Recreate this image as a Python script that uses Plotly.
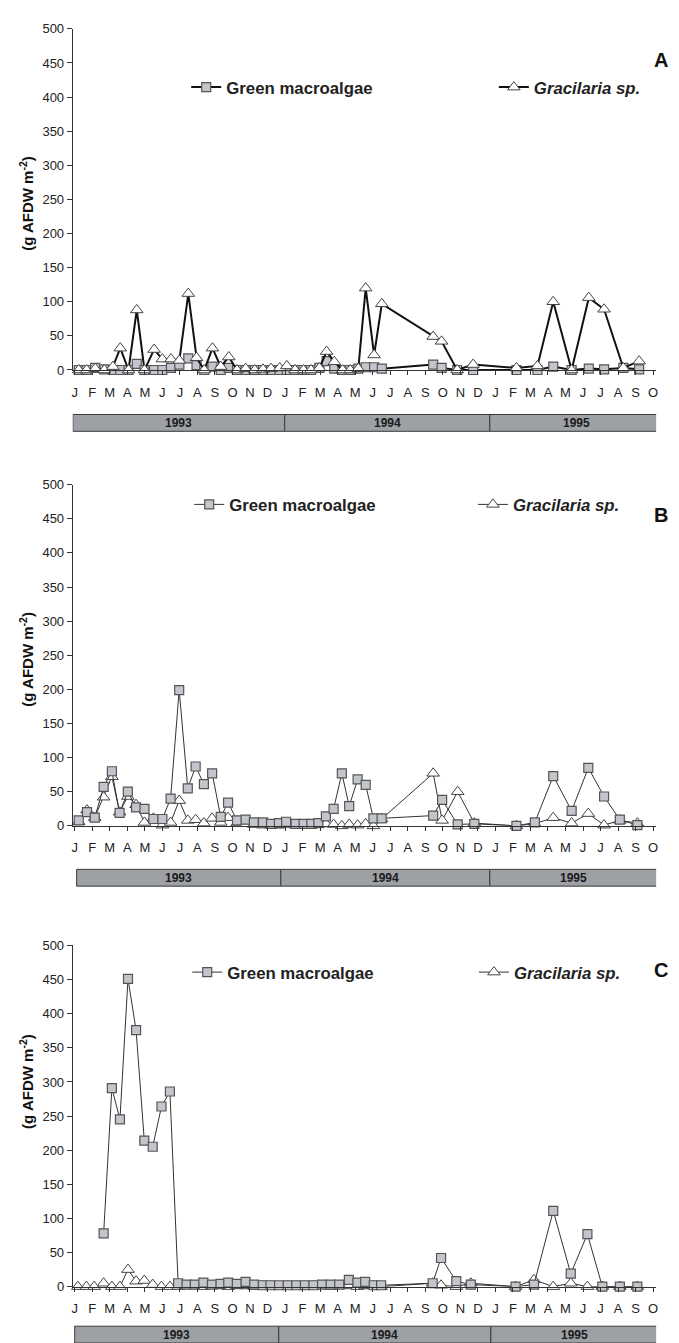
import plotly.graph_objects as go

W, H = 679, 1343

MONTHS = ["J", "F", "M", "A", "M", "J", "J", "A", "S", "O", "N", "D"]
month_ticks = list(range(34))
month_labels = [MONTHS[i % 12] for i in month_ticks]
y_ticks = [0, 50, 100, 150, 200, 250, 300, 350, 400, 450, 500]
years = ["1993", "1994", "1995"]
panel_letters = ["A", "B", "C"]
series_names = ["Green macroalgae", "<i>Gracilaria sp.</i>"]

# ---- Panel A (months since Jan 1993) ----
a_x = [0.23, 0.68, 1.17, 1.69, 2.18, 2.6, 3.07, 3.54, 3.98, 4.53, 5.0, 5.49, 5.97,
       6.48, 6.95, 7.39, 7.86, 8.33, 8.79, 9.26, 9.75, 10.27, 10.74, 11.2, 11.69,
       12.1, 12.57, 13.05, 13.48, 13.96, 14.37, 14.81, 15.28, 15.72, 16.18, 16.6,
       17.08, 17.52, 20.45, 20.93, 21.82, 22.73, 25.2, 26.4, 27.3, 28.35, 29.33,
       30.2, 31.3, 32.2]
a_green = [0, 0, 3, 1, 0, 0, 0, 9, 0, 0, 0, 3, 8, 17, 7, 0, 5, 0, 3, 0, 0, 0, 0, 0, 0,
           0, 0, 0, 0, 3, 13, 2, 0, 0, 2, 4, 4, 2, 8, 3, 0, 0, 0, 0, 5, 0, 2, 1, 3, 1]
a_grac = [0, 0, 2, 0, 5, 32, 0, 88, 0, 30, 16, 16, 14, 112, 18, 0, 32, 5, 19, 0, 2, 0,
          1, 2, 3, 6, 0, 0, 0, 3, 27, 12, 0, 0, 2, 120, 22, 97, 49, 42, 0, 8, 3, 6,
          100, 0, 106, 89, 3, 13]

# ---- Panel B ----
b_x = [0.23, 0.70, 1.14, 1.65, 2.12, 2.56, 3.03, 3.5, 3.98, 4.49, 5.0, 5.47, 5.96,
       6.45, 6.9, 7.37, 7.84, 8.33, 8.75, 9.26, 9.75, 10.22, 10.74, 11.2, 11.65,
       12.06, 12.6, 13.06, 13.5, 13.9, 14.33, 14.77, 15.24, 15.66, 16.14, 16.6,
       17.04, 17.51, 20.45, 20.96, 21.85, 22.8, 25.2, 26.25, 27.3, 28.35, 29.3,
       30.2, 31.1, 32.1]
b_green = [8, 20, 12, 57, 80, 19, 50, 27, 25, 10, 10, 40, 199, 55, 87, 61, 77, 13, 34,
           8, 9, 5, 5, 3, 4, 6, 3, 3, 3, 4, 14, 25, 77, 29, 68, 60, 11, 11, 15, 38,
           2, 3, 0, 5, 73, 22, 85, 43, 9, 1]
b_grac = [6, 23, 12, 42, 72, 20, 43, 31, 5, 11, 1, 5, 37, 8, 9, 4, 11, 5, 12, 4, 3, 2,
          1, 1, 1, 2, 1, 1, 1, 2, 3, 2, 0, 2, 1, 3, 0, 10, 77, 8, 50, 4, 0, 3, 12, 4,
          18, 1, 8, 4]

# ---- Panel C ----
c_green_x = [1.65, 2.12, 2.58, 3.04, 3.5, 3.97, 4.45, 4.95, 5.43, 5.9, 6.38, 6.85,
             7.34, 7.83, 8.32, 8.76, 9.25, 9.75, 10.24, 10.73, 11.17, 11.66, 12.15,
             12.64, 13.13, 13.62, 14.11, 14.6, 15.09, 15.64, 16.13, 16.57, 17.06,
             17.48, 20.42, 20.9, 21.77, 22.6, 25.15, 26.2, 27.3, 28.3, 29.25, 30.1,
             31.1, 32.1]
c_green = [78, 291, 245, 451, 376, 214, 205, 264, 286, 5, 3, 3, 6, 3, 4, 6, 4, 7, 3, 2,
           2, 2, 2, 2, 2, 2, 3, 3, 3, 10, 6, 7, 2, 2, 5, 42, 8, 3, 0, 3, 111, 19, 77,
           0, 0, 0]
c_grac_x = [0.18, 0.67, 1.11, 1.65, 2.12, 2.58, 3.04, 3.5, 3.97, 4.45, 4.95, 5.43, 5.9,
            6.38, 6.85, 7.34, 7.83, 8.32, 8.76, 9.25, 9.75, 10.24, 10.73, 11.17, 11.66,
            12.15, 12.64, 13.13, 13.62, 14.11, 14.6, 15.09, 15.64, 16.13, 16.57, 17.06,
            17.48, 20.42, 20.9, 21.77, 22.6, 25.15, 26.2, 27.3, 28.3, 29.25, 30.1,
            31.1, 32.1]
c_grac = [0, 0, 0, 5, 0, 0, 25, 8, 9, 3, 0, 0, 0, 1, 1, 0, 1, 1, 0, 1, 1, 0, 1, 1, 0,
          1, 1, 0, 1, 1, 0, 1, 1, 0, 1, 1, 0, 5, 2, 0, 5, 0, 10, 0, 5, 0, 0, 0, 0]

# year bar boundaries (months since Jan 1993) per panel
year_edges = [
    [-0.11, 11.98, 23.68, 33.57],
    [0.11, 11.76, 23.68, 33.28],
    [0.0, 11.64, 23.74, 33.28],
]

# ---------------- layout geometry (pixels) ----------------
FONT = "Liberation Sans, Arial, sans-serif"
X_LEFT, X_RIGHT = 64, 650
X_RANGE = [-0.114, 33.17]
panels = [
    dict(top=14, bot=359, leg_y=73, leg_x=(178, 487), let_y=46, tit_y=190,
         bar0=404, bar1=421, lw=2.0, lc="#111111"),
    dict(top=475, bot=820, leg_y=495, leg_x=(181, 466), let_y=506, tit_y=651,
         bar0=864, bar1=881, lw=1.0, lc="#333333"),
    dict(top=941, bot=1286, leg_y=968, leg_x=(179, 467), let_y=966, tit_y=1078,
         bar0=1326, bar1=1343, lw=1.0, lc="#333333"),
]


def py(p):
    return 1 - p / H


series = [
    (a_x, a_green, a_x, a_grac),
    (b_x, b_green, b_x, b_grac),
    (c_green_x, c_green, c_grac_x, c_grac),
]

fig = go.Figure()
shapes, annotations = [], []
layout = dict(width=W, height=H, margin=dict(l=0, r=0, t=0, b=0),
              paper_bgcolor="white", plot_bgcolor="white", showlegend=True)

for i, (p, (gx, gy, tx, ty)) in enumerate(zip(panels, series)):
    n = "" if i == 0 else str(i + 1)
    xa, ya = "x" + n, "y" + n
    lg_green = "legend" if i == 0 else "legend" + str(2 * i + 1)
    lg_grac = "legend" + str(2 * i + 2)
    green_tr = go.Scatter(
        x=gx, y=gy, mode="lines+markers", name=series_names[0],
        xaxis=xa, yaxis=ya, legend=lg_green, cliponaxis=False,
        line=dict(color=p["lc"], width=p["lw"]),
        marker=dict(symbol="square", size=9, color="#c3c5cc",
                    line=dict(color="#555555", width=1.2)))
    grac_tr = go.Scatter(
        x=tx, y=ty, mode="lines+markers", name=series_names[1],
        xaxis=xa, yaxis=ya, legend=lg_grac, cliponaxis=False,
        line=dict(color=p["lc"], width=p["lw"]),
        marker=dict(symbol="triangle-up", size=11, color="white",
                    line=dict(color="#444444", width=1)))
    if i == 0:
        fig.add_trace(green_tr)
        fig.add_trace(grac_tr)
    else:
        fig.add_trace(grac_tr)
        fig.add_trace(green_tr)

    layout["xaxis" + n] = dict(
        domain=[X_LEFT / W, X_RIGHT / W], range=X_RANGE, anchor=ya,
        tickmode="array", tickvals=month_ticks, ticktext=month_labels,
        ticks="outside", ticklen=4, tickcolor="#333", tickwidth=1,
        showline=True, linecolor="#333", linewidth=1, showgrid=False,
        zeroline=False, ticklabelstandoff=6,
        tickfont=dict(family=FONT, size=13, color="#222"))
    layout["yaxis" + n] = dict(
        domain=[py(p["bot"]), py(p["top"])], range=[0, 500], anchor=xa,
        tickmode="array", tickvals=y_ticks,
        ticks="outside", ticklen=5, tickcolor="#333", tickwidth=1,
        showline=True, linecolor="#333", linewidth=1, showgrid=False,
        zeroline=False, tickfont=dict(family=FONT, size=13, color="#222"))
    for lg, lx in zip((lg_green, lg_grac), p["leg_x"]):
        layout[lg] = dict(
            x=lx / W, y=py(p["leg_y"]), xanchor="left", yanchor="middle",
            orientation="h", bgcolor="rgba(0,0,0,0)", borderwidth=0,
            font=dict(family=FONT, size=16.8, color="#222", weight="bold"))

    edges = year_edges[i]
    for k, yr in enumerate(years):
        shapes.append(dict(type="rect", xref=xa, yref="paper",
                           x0=edges[k], x1=edges[k + 1],
                           y0=py(p["bar1"]), y1=py(p["bar0"]),
                           fillcolor="#9da1a6", line=dict(color="#3a3a3a", width=1),
                           layer="above"))
        annotations.append(dict(xref=xa, yref="paper",
                                x=(edges[k] + edges[k + 1]) / 2,
                                y=py((p["bar0"] + p["bar1"]) / 2),
                                text="<b>" + yr + "</b>", showarrow=False,
                                font=dict(family=FONT, size=12, color="#1a1a1a"),
                                xanchor="center", yanchor="middle"))
    annotations.append(dict(xref="paper", yref="paper", x=655 / W, y=py(p["let_y"]),
                            text="<b>" + panel_letters[i] + "</b>", showarrow=False,
                            font=dict(family=FONT, size=20, color="#111"),
                            xanchor="center", yanchor="middle"))
    annotations.append(dict(xref="paper", yref="paper", x=18 / W, y=py(p["tit_y"]),
                            text="<b>(g AFDW m<sup>-2</sup>)</b>", showarrow=False,
                            textangle=-90,
                            font=dict(family=FONT, size=15, color="#111"),
                            xanchor="center", yanchor="middle"))

layout["shapes"] = shapes
layout["annotations"] = annotations
fig.update_layout(**layout)
fig.write_html("out.html")
